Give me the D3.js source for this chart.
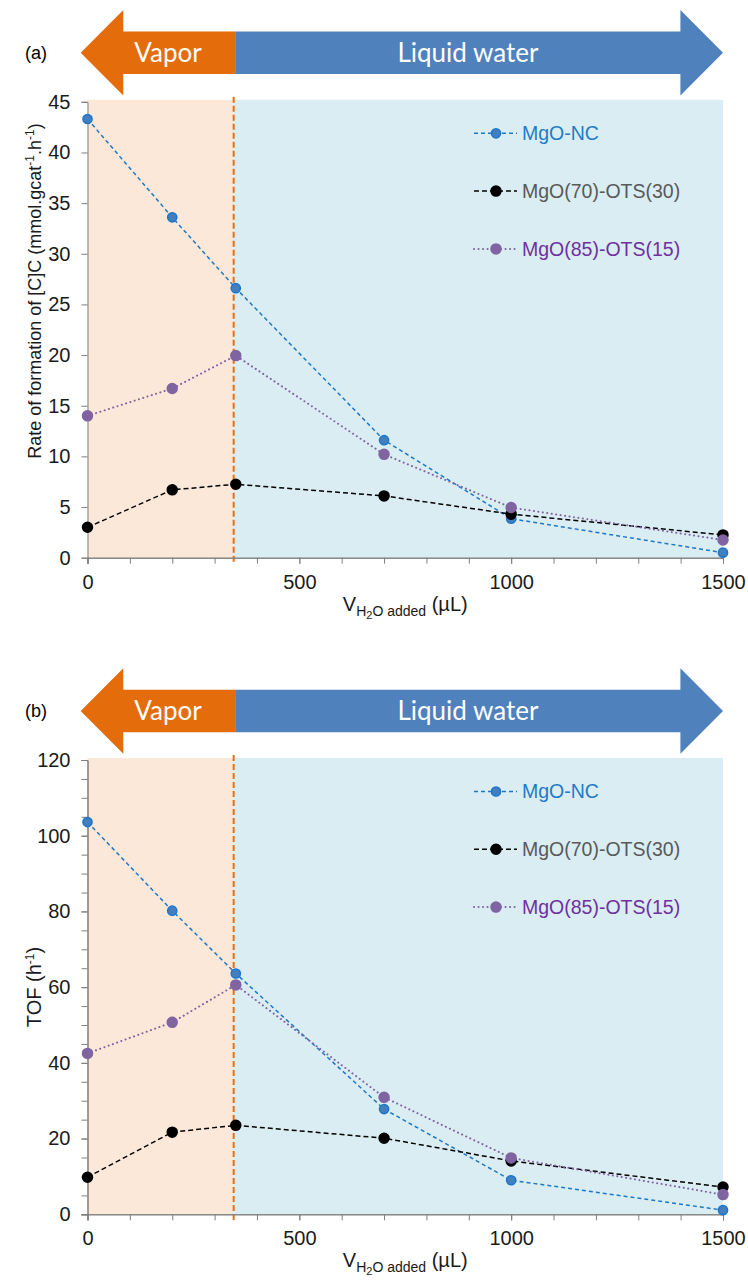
<!DOCTYPE html>
<html>
<head>
<meta charset="utf-8">
<script src="https://cdn.jsdelivr.net/npm/d3@7"></script>
<style>
  html, body { margin: 0; padding: 0; background: #fff; }
  svg text { font-family: "Liberation Sans", Arial, sans-serif; }
</style>
</head>
<body>
<svg id="chart" width="748" height="1281"></svg>
<script>
// Water volume added (µL)
const waterVolume = [0, 200, 350, 700, 1000, 1500];

// Panel (a): rate of formation of [C]C (mmol.gcat-1.h-1)
const rateMgONC   = [43.3, 33.6, 26.6, 11.6, 3.85, 0.5];
const rateOTS30   = [3.0, 6.7, 7.25, 6.1, 4.3, 2.25];
const rateOTS15   = [14.0, 16.7, 19.95, 10.2, 4.95, 1.75];

// Panel (b): TOF (h-1)
const tofMgONC    = [103.6, 80.2, 63.6, 27.8, 9.0, 1.1];
const tofOTS30    = [9.8, 21.7, 23.5, 20.1, 14.1, 7.2];
const tofOTS15    = [42.5, 50.7, 60.6, 30.9, 14.9, 5.2];

const seriesNames = ["MgO-NC", "MgO(70)-OTS(30)", "MgO(85)-OTS(15)"];
const xTickValues = [0, 500, 1000, 1500];
const xMinorTicks = d3.range(0, 1501, 100);
const rateTicks   = [0, 5, 10, 15, 20, 25, 30, 35, 40, 45];
const tofTicks    = [0, 20, 40, 60, 80, 100, 120];
const tofMinor    = d3.range(0, 121, 5);
const vaporLimit  = 345;   // vapor / liquid water boundary (µL)

const styles = [
  { line: "#1f78c6", dash: "4,3", cap: "butt", width: 1.5, fill: "#437fc0", stroke: "#1c76c9", text: "#1f7cc6", r: 4.6 },
  { line: "#000000", dash: "5,3", cap: "butt", width: 1.5, fill: "#000000", stroke: "#000000", text: "#595959", r: 5 },
  { line: "#8064a2", dash: "0.1,4.4", cap: "round", width: 2, fill: "#8064a2", stroke: "#8064a2", text: "#7030a0", r: 5 }
];

const svg = d3.select("#chart");
svg.append("rect").attr("width", 748).attr("height", 1281).attr("fill", "#fff");

const x = d3.scaleLinear().domain([0, 1500]).range([87.5, 723]);

function drawPanel(cfg) {
  const g = svg.append("g");
  const y = d3.scaleLinear().domain([0, cfg.yMax]).range(cfg.yRange);
  const top = y(cfg.yMax), bottom = y(0);

  // background zones
  g.append("rect").attr("x", x(0)).attr("y", top - 2)
    .attr("width", x(vaporLimit) - x(0)).attr("height", bottom - top + 2)
    .attr("fill", "#fce8d8");
  g.append("rect").attr("x", x(vaporLimit)).attr("y", top - 2)
    .attr("width", x(1500) - x(vaporLimit)).attr("height", bottom - top + 2)
    .attr("fill", "#daedf3");

  // phase arrows
  const cy = top - 49;
  const hh = 42.8, sh = 21.3, head = 42.6;
  const lTip = x(0) - 6.8, mid = x(vaporLimit) + 1.5, rTip = x(1500);
  g.append("path")
    .attr("d", `M${lTip},${cy} L${lTip + head},${cy - hh} L${lTip + head},${cy - sh} L${mid},${cy - sh} L${mid},${cy + sh} L${lTip + head},${cy + sh} L${lTip + head},${cy + hh} Z`)
    .attr("fill", "#e46c0a");
  g.append("path")
    .attr("d", `M${rTip},${cy} L${rTip - head},${cy - hh} L${rTip - head},${cy - sh} L${mid},${cy - sh} L${mid},${cy + sh} L${rTip - head},${cy + sh} L${rTip - head},${cy + hh} Z`)
    .attr("fill", "#4f81bd");
  g.append("text").attr("x", 168).attr("y", cy).attr("dy", "0.35em")
    .attr("text-anchor", "middle").attr("fill", "#fff")
    .style("font-family", "Lato, 'Open Sans', sans-serif").style("font-size", "26px")
    .text("Vapor");
  g.append("text").attr("x", 468).attr("y", cy).attr("dy", "0.35em")
    .attr("text-anchor", "middle").attr("fill", "#fff")
    .style("font-family", "Lato, 'Open Sans', sans-serif").style("font-size", "26px")
    .text("Liquid water");
  g.append("text").attr("x", 36).attr("y", cy).attr("dy", "0.35em")
    .attr("text-anchor", "middle").attr("fill", "#000").style("font-size", "18px")
    .text(cfg.tag);

  // boundary line
  g.append("line").attr("x1", x(vaporLimit)).attr("x2", x(vaporLimit))
    .attr("y1", top - 5).attr("y2", bottom + 7)
    .attr("stroke", "#ec6d0c").attr("stroke-width", 2).attr("stroke-dasharray", "6,3");

  // y axis
  const yAxis = g.append("g").attr("transform", `translate(${x(0)},0)`);
  if (cfg.yMinor) {
    yAxis.call(d3.axisLeft(y).tickValues(cfg.yMinor).tickSize(6).tickFormat(""));
  }
  yAxis.append("g").call(d3.axisLeft(y).tickValues(cfg.yTicks).tickSize(6).tickPadding(11));
  yAxis.selectAll("path.domain").attr("stroke", "#7f7f7f");
  yAxis.selectAll(".tick line").attr("stroke", "#7f7f7f");
  yAxis.selectAll(".tick text").attr("fill", "#1a1a1a")
    .style("font-size", "20px").style("font-family", "'Liberation Sans', Arial, sans-serif");

  // x axis
  const xAxis = g.append("g").attr("transform", `translate(0,${bottom})`);
  xAxis.call(d3.axisBottom(x).tickValues(xMinorTicks).tickSize(6).tickFormat(""));
  xAxis.append("g").call(d3.axisBottom(x).tickValues(xTickValues).tickSize(6).tickPadding(11).tickFormat(d3.format("d")));
  xAxis.selectAll("path.domain").attr("stroke", "#7f7f7f");
  xAxis.selectAll(".tick line").attr("stroke", "#7f7f7f");
  xAxis.selectAll(".tick text").attr("fill", "#1a1a1a")
    .style("font-size", "20px").style("font-family", "'Liberation Sans', Arial, sans-serif");

  // x axis title
  const xt = g.append("text").attr("x", (x(0) + x(1500)) / 2).attr("y", bottom + 53)
    .attr("text-anchor", "middle").attr("fill", "#1a1a1a").style("font-size", "20px");
  xt.append("tspan").text("V");
  xt.append("tspan").attr("dy", 5).style("font-size", "14px").text("H");
  xt.append("tspan").attr("dy", 3).style("font-size", "11px").text("2");
  xt.append("tspan").attr("dy", -3).style("font-size", "14px").text("O added");
  xt.append("tspan").attr("dy", -5).text(" (µL)");

  // y axis title
  const yt = g.append("text")
    .attr("transform", `translate(41,${cfg.titleY}) rotate(-90)`)
    .attr("text-anchor", "middle").attr("fill", "#1a1a1a").style("font-size", cfg.titleSize);
  cfg.yTitle.forEach(part => {
    const t = yt.append("tspan").text(part.t);
    if (part.sup) t.attr("dy", -7).style("font-size", "12px");
    if (part.down) t.attr("dy", 7);
  });

  // series
  const line = d3.line().x((d, i) => x(waterVolume[i])).y(d => y(d));
  const order = [0, 1, 2];
  order.forEach(k => {
    const s = styles[k];
    g.append("path").datum(cfg.series[k]).attr("d", line)
      .attr("fill", "none").attr("stroke", s.line).attr("stroke-width", s.width)
      .attr("stroke-linecap", s.cap).attr("stroke-dasharray", s.dash);
  });
  order.forEach(k => {
    const s = styles[k];
    g.append("g").selectAll("circle").data(cfg.series[k]).join("circle")
      .attr("cx", (d, i) => x(waterVolume[i])).attr("cy", d => y(d))
      .attr("r", s.r).attr("fill", s.fill).attr("stroke", s.stroke).attr("stroke-width", 1.5);
  });

  // legend
  seriesNames.forEach((name, k) => {
    const s = styles[k];
    const ly = top + 31.5 + k * 57.8;
    const lg = g.append("g");
    lg.append("line").attr("x1", 474).attr("x2", 517).attr("y1", ly).attr("y2", ly)
      .attr("stroke", s.line).attr("stroke-width", s.width)
      .attr("stroke-linecap", s.cap).attr("stroke-dasharray", s.dash);
    lg.append("circle").attr("cx", 496).attr("cy", ly).attr("r", s.r)
      .attr("fill", s.fill).attr("stroke", s.stroke).attr("stroke-width", 1.5);
    lg.append("text").attr("x", 522).attr("y", ly).attr("dy", "0.35em")
      .attr("fill", s.text).style("font-size", "19.5px").text(name);
  });
}

drawPanel({
  tag: "(a)",
  yMax: 45,
  yRange: [557.7, 101.8],
  yTicks: rateTicks,
  yMinor: null,
  titleY: 291,
  titleSize: "18px",
  yTitle: [
    { t: "Rate of formation of [C]C (mmol.gcat" },
    { t: "-1", sup: true },
    { t: ".h", down: true },
    { t: "-1", sup: true },
    { t: ")", down: true }
  ],
  series: [rateMgONC, rateOTS30, rateOTS15]
});

drawPanel({
  tag: "(b)",
  yMax: 120,
  yRange: [1214.3, 760],
  yTicks: tofTicks,
  yMinor: tofMinor,
  titleY: 987,
  titleSize: "20px",
  yTitle: [
    { t: "TOF (h" },
    { t: "-1", sup: true },
    { t: ")", down: true }
  ],
  series: [tofMgONC, tofOTS30, tofOTS15]
});
</script>
</body>
</html>
